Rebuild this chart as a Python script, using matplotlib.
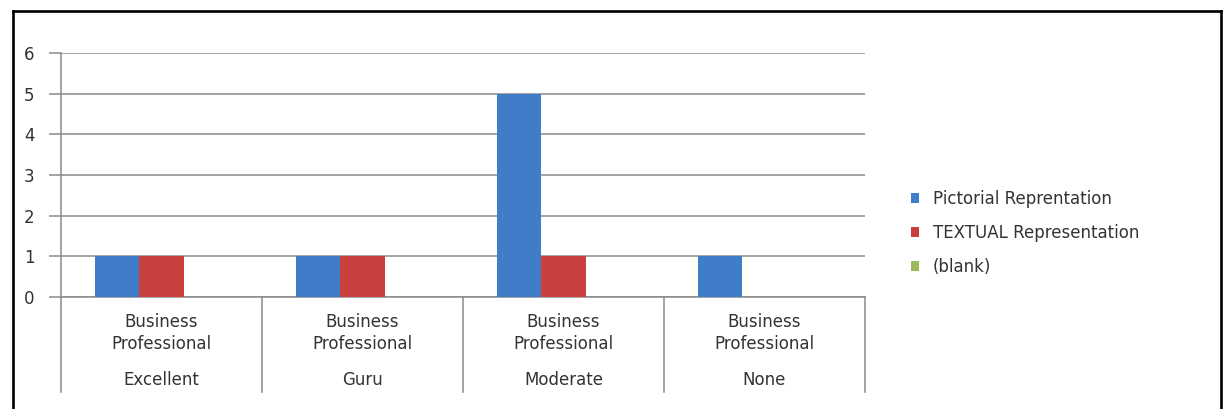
import matplotlib
matplotlib.use("Agg")
import matplotlib.pyplot as plt
from matplotlib.lines import Line2D
from matplotlib.patches import Patch
import matplotlib.transforms as mtransforms
import numpy as np

plt.rcParams['font.family'] = ['DejaVu Sans']

categories = ["Excellent", "Guru", "Moderate", "None"]
subcategory = "Business\nProfessional"
series_names = ["Pictorial Reprentation", "TEXTUAL Representation", "(blank)"]
pictorial = [1, 1, 5, 1]
textual = [1, 1, 1, 0]
blank = [0, 0, 0, 0]
yticks = [0, 1, 2, 3, 4, 5, 6]

colors = ["#3F7DC8", "#C9413F", "#9BBB59"]
text_color = "#333333"
grid_color = "#8a8a8a"
fs = 12

W, H = 1223, 409
fig = plt.figure(figsize=(W / 100, H / 100), dpi=100)
left, right = 61 / W, 865 / W
bottom, top = (H - 297) / H, (H - 53) / H
ax = fig.add_axes([left, bottom, right - left, top - bottom])

x = np.arange(len(categories))
bw = 0.22
for i, (vals, c) in enumerate(zip([pictorial, textual, blank], colors)):
    ax.bar(x + (i - 1) * bw, vals, width=bw, color=c, zorder=3, linewidth=0)

ax.set_xlim(-0.5, len(categories) - 0.5)
ax.set_ylim(0, 6)
ax.set_yticks(yticks)
ax.set_yticklabels([str(t) for t in yticks], fontsize=fs, color=text_color)
ax.tick_params(axis='y', length=9, width=1.1, color=grid_color, pad=10)
ax.set_xticks([])
ax.yaxis.grid(True, color=grid_color, linewidth=1.1, zorder=0)
for s in ["top", "right"]:
    ax.spines[s].set_visible(False)
for s in ["left", "bottom"]:
    ax.spines[s].set_color(grid_color)
    ax.spines[s].set_linewidth(1.1)

# category separators extending below the axis
trans = mtransforms.blended_transform_factory(ax.transData, ax.transAxes)
ybot = (297 - 392) / (297 - 53)
for sx in np.arange(-0.5, len(categories), 1.0):
    ax.add_line(Line2D([sx, sx], [0, ybot], transform=trans, color=grid_color,
                       linewidth=1.1, clip_on=False))

# two-level category labels
y_sub1 = (297 - 322) / (297 - 53)
y_sub2 = (297 - 344) / (297 - 53)
y_cat = (297 - 380) / (297 - 53)
sub_lines = subcategory.split("\n")
for xi, cat in zip(x, categories):
    ax.text(xi, y_sub1, sub_lines[0], transform=trans, ha='center', va='center',
            fontsize=fs, color=text_color)
    ax.text(xi, y_sub2, sub_lines[1], transform=trans, ha='center', va='center',
            fontsize=fs, color=text_color)
    ax.text(xi, y_cat, cat, transform=trans, ha='center', va='center',
            fontsize=fs, color=text_color)

# legend
handles = [Patch(facecolor=c, edgecolor='none') for c in colors]
fig.legend(handles, series_names, loc='upper left',
           bbox_to_anchor=(911 / W, (H - 190) / H), bbox_transform=fig.transFigure,
           frameon=False, fontsize=fs, handlelength=0.5, handleheight=0.5,
           handletextpad=0.8, labelspacing=0.95, borderpad=0, borderaxespad=0,
           labelcolor=text_color)

# outer border (bottom edge cut off)
bx0, bx1 = 13 / W, 1221 / W
by1 = (H - 11) / H
for xs, ys in [([bx0, bx0], [-0.05, by1]), ([bx0, bx1], [by1, by1]), ([bx1, bx1], [by1, -0.05])]:
    fig.add_artist(Line2D(xs, ys, transform=fig.transFigure, color='black', linewidth=1.9))

fig.savefig("out.png", dpi=100)
